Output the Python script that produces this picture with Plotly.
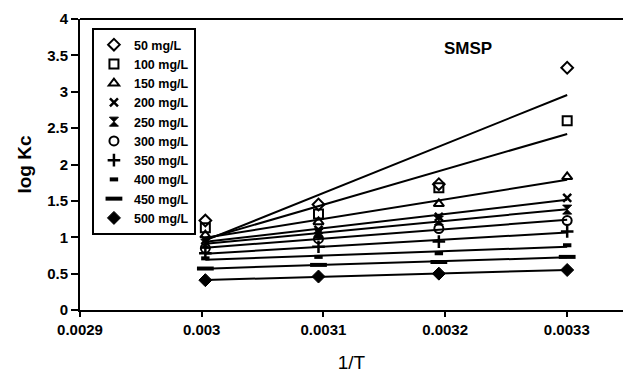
import numpy as np
import plotly.graph_objects as go

# 1/T for 60, 50, 40, 30 °C (in K)
temps_K = [333, 323, 313, 303]
inv_T = [1.0 / t for t in temps_K]

series_names = ["50 mg/L", "100 mg/L", "150 mg/L", "200 mg/L", "250 mg/L",
                "300 mg/L", "350 mg/L", "400 mg/L", "450 mg/L", "500 mg/L"]

logkc_50 = [1.23, 1.45, 1.73, 3.33]
logkc_100 = [1.13, 1.32, 1.68, 2.60]
logkc_150 = [1.03, 1.21, 1.46, 1.83]
logkc_200 = [0.96, 1.10, 1.28, 1.54]
logkc_250 = [0.91, 1.05, 1.23, 1.38]
logkc_300 = [0.85, 0.98, 1.12, 1.23]
logkc_350 = [0.78, 0.87, 0.94, 1.08]
logkc_400 = [0.71, 0.73, 0.78, 0.89]
logkc_450 = [0.57, 0.62, 0.66, 0.73]
logkc_500 = [0.41, 0.46, 0.50, 0.55]

all_series = [logkc_50, logkc_100, logkc_150, logkc_200, logkc_250,
              logkc_300, logkc_350, logkc_400, logkc_450, logkc_500]

x_tickvals = [0.0029, 0.0030, 0.0031, 0.0032, 0.0033]
x_ticktext = ["0.0029", "0.003", "0.0031", "0.0032", "0.0033"]
y_tickvals = [0, 0.5, 1, 1.5, 2, 2.5, 3, 3.5, 4]
y_ticktext = ["0", "0.5", "1", "1.5", "2", "2.5", "3", "3.5", "4"]

marker_styles = [
    dict(symbol="diamond-open", size=9, line=dict(width=2, color="black")),
    dict(symbol="square-open", size=9, line=dict(width=2, color="black")),
    dict(symbol="triangle-up-open", size=9, line=dict(width=2, color="black")),
    dict(symbol="x-thin-open", size=8, line=dict(width=2.5, color="black")),
    dict(symbol="hourglass", size=9, line=dict(width=1, color="black")),
    dict(symbol="circle-open", size=9, line=dict(width=2, color="black")),
    dict(symbol="cross-thin-open", size=9, line=dict(width=2.5, color="black")),
    dict(symbol="line-ew-open", size=6, line=dict(width=4, color="black")),
    dict(symbol="line-ew-open", size=12, line=dict(width=4, color="black")),
    dict(symbol="diamond", size=10, line=dict(width=1, color="black")),
]

fig = go.Figure()
x_arr = np.array(inv_T)
xl = np.array([min(inv_T), max(inv_T)])
for name, vals, ms in zip(series_names, all_series, marker_styles):
    slope, icpt = np.polyfit(x_arr, np.array(vals), 1)
    fig.add_trace(go.Scatter(x=xl, y=slope * xl + icpt, mode="lines",
                             line=dict(color="black", width=2),
                             showlegend=False, hoverinfo="skip"))
for name, vals, ms in zip(series_names, all_series, marker_styles):
    fig.add_trace(go.Scatter(x=inv_T, y=vals, mode="markers", name=name,
                             marker=dict(color="black", **ms)))

font_main = dict(family="Liberation Sans, Arial, sans-serif", color="black")

fig.update_layout(
    width=623, height=373,
    margin=dict(l=80, r=0, t=19, b=61),
    plot_bgcolor="white", paper_bgcolor="white",
    font=font_main,
    showlegend=True,
    legend=dict(x=0.022, y=0.969, xanchor="left", yanchor="top",
                bgcolor="white", bordercolor="black", borderwidth=2,
                font=dict(size=12.5, weight="bold", family="Liberation Sans, Arial"),
                itemwidth=30, tracegroupgap=0),
    xaxis=dict(range=[0.0029, 0.0033462], tickvals=x_tickvals, ticktext=x_ticktext,
               showgrid=False, zeroline=False, showline=True, linecolor="black",
               linewidth=2, ticks="outside", ticklen=5, tickwidth=1.5, tickcolor="black",
               tickfont=dict(size=15, weight="bold"),
               title=dict(text="1/T", font=dict(size=19), standoff=22)),
    yaxis=dict(range=[0, 4], tickvals=y_tickvals, ticktext=y_ticktext,
               showgrid=False, zeroline=False, showline=True, linecolor="black",
               linewidth=2, ticks="outside", ticklen=7, tickwidth=1.5, tickcolor="black",
               tickfont=dict(size=15, weight="bold"),
               title=dict(text="log Kc", font=dict(size=19, weight="bold"), standoff=10)),
    shapes=[dict(type="line", xref="paper", yref="paper", x0=0, x1=1, y0=1, y1=1,
                 line=dict(color="black", width=2))],
    annotations=[dict(text="SMSP", x=0.715, y=0.90, xref="paper", yref="paper",
                      xanchor="center", yanchor="middle",
                      showarrow=False, font=dict(size=17, weight="bold"))],
)

fig.write_html("out.html", config={"displayModeBar": False},
               post_script="document.body.style.margin='0';")
